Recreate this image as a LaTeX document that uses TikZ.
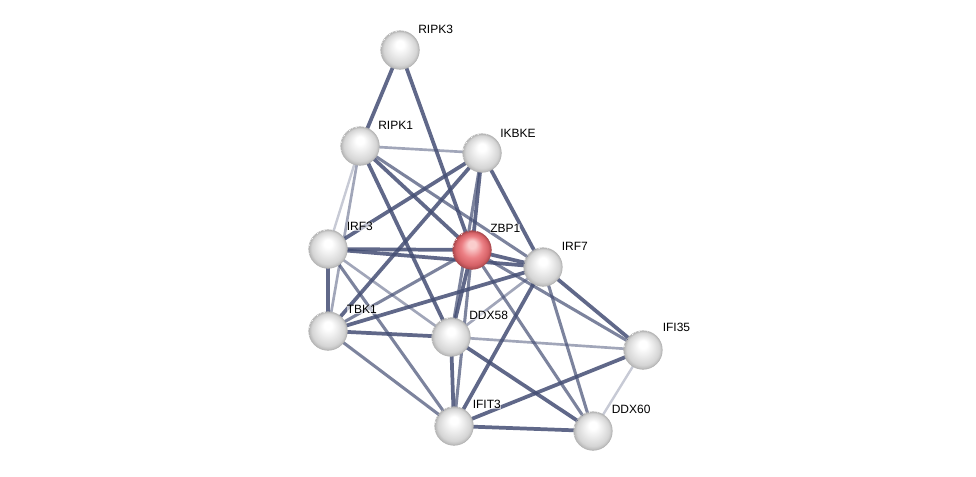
\documentclass[tikz,border=0pt]{standalone}
\usepackage{fontspec}
\setmainfont{Liberation Sans}
\pgfdeclarelayer{bg}
\pgfsetlayers{bg,main}
\definecolor{edgec}{RGB}{68,78,116}
\definecolor{rA}{RGB}{250,205,205}
\definecolor{rB}{RGB}{236,128,133}
\definecolor{rC}{RGB}{214,98,103}
\definecolor{rD}{RGB}{170,72,77}
\pgfdeclareradialshading{greysphere}{\pgfpoint{0bp}{9bp}}{color(0bp)=(white); color(5bp)=(white); color(14bp)=(gray!18); color(21bp)=(gray!33); color(25bp)=(gray!58)}
\pgfdeclareradialshading{redsphere}{\pgfpoint{0bp}{9bp}}{color(0bp)=(rA); color(5bp)=(rA); color(14bp)=(rB); color(21bp)=(rC); color(25bp)=(rD)}
\tikzset{
  prot/.style={circle, minimum size=29pt, inner sep=0pt, shading=greysphere, draw=gray!60, line width=0.4pt},
  hit/.style={prot, shading=redsphere, draw=rD},
  lab/.style={anchor=base west, inner sep=0pt, font=\fontsize{9}{9}\selectfont, fill=white, fill opacity=0.6, text opacity=1},
  eA/.style={draw=edgec, line width=2.8pt, opacity=0.85},
  eB/.style={draw=edgec, line width=2.3pt, opacity=0.7},
  eC/.style={draw=edgec, line width=2pt, opacity=0.5},
  eD/.style={draw=edgec, line width=1.8pt, opacity=0.3},
}
\begin{document}
\begin{tikzpicture}[x=0.75pt,y=-0.75pt]
\useasboundingbox (0,0) rectangle (976,476);
% nodes
\node[prot] (RIPK3) at (400,50) {};
\node[prot] (RIPK1) at (360,146) {};
\node[prot] (IKBKE) at (482,153) {};
\node[prot] (IRF3)  at (328,249) {};
\node[hit]  (ZBP1)  at (472,250) {};
\node[prot] (IRF7)  at (543,267) {};
\node[prot] (TBK1)  at (328,331) {};
\node[prot] (DDX58) at (451,337) {};
\node[prot] (IFI35) at (643,350) {};
\node[prot] (IFIT3) at (454,426) {};
\node[prot] (DDX60) at (593,431) {};
% labels
\node[lab] (lRIPK3) at (418,33) {RIPK3};
\node[lab] (lRIPK1) at (378,129.5) {RIPK1};
\node[lab] (lIKBKE) at (500,137) {IKBKE};
\node[lab] (lIRF3)  at (346.5,230.5) {IRF3};
\node[lab] (lZBP1)  at (490,232.5) {ZBP1};
\node[lab] (lIRF7)  at (561.5,250.5) {IRF7};
\node[lab] (lTBK1)  at (346.5,313.5) {TBK1};
\node[lab] (lDDX58) at (469,319.5) {DDX58};
\node[lab] (lIFI35) at (662.5,331.5) {IFI35};
\node[lab] (lIFIT3) at (472.5,408.5) {IFIT3};
\node[lab] (lDDX60) at (611.5,413.5) {DDX60};
% edges
\begin{pgfonlayer}{bg}
\draw[eA] (RIPK3.center) -- (RIPK1.center);
\draw[eA] (RIPK3.center) -- (ZBP1.center);
\draw[eC] (RIPK1.center) -- (IKBKE.center);
\draw[eD] (RIPK1.center) -- (IRF3.center);
\draw[eC] (RIPK1.center) -- (TBK1.center);
\draw[eA] (RIPK1.center) -- (ZBP1.center);
\draw[eA] (RIPK1.center) -- (DDX58.center);
\draw[eB] (RIPK1.center) -- (IRF7.center);
\draw[eA] (IKBKE.center) -- (IRF3.center);
\draw[eA] (IKBKE.center) -- (TBK1.center);
\draw[eA] (IKBKE.center) -- (ZBP1.center);
\draw[eB] (IKBKE.center) -- (DDX58.center);
\draw[eA] (IKBKE.center) -- (IRF7.center);
\draw[eA] (IRF3.center) -- (TBK1.center);
\draw[eA] (IRF3.center) -- (ZBP1.center);
\draw[eA] (IRF3.center) -- (IRF7.center);
\draw[eC] (IRF3.center) -- (DDX58.center);
\draw[eB] (IRF3.center) -- (IFIT3.center);
\draw[eB] (TBK1.center) -- (ZBP1.center);
\draw[eA] (TBK1.center) -- (IRF7.center);
\draw[eA] (TBK1.center) -- (DDX58.center);
\draw[eB] (TBK1.center) -- (IFIT3.center);
\draw[eA] (ZBP1.center) -- (IRF7.center);
\draw[eA] (ZBP1.center) -- (DDX58.center);
\draw[eB] (ZBP1.center) -- (IFIT3.center);
\draw[eB] (ZBP1.center) -- (DDX60.center);
\draw[eB] (ZBP1.center) -- (IFI35.center);
\draw[eC] (IRF7.center) -- (DDX58.center);
\draw[eA] (IRF7.center) -- (IFIT3.center);
\draw[eA] (IRF7.center) -- (IFI35.center);
\draw[eB] (IRF7.center) -- (DDX60.center);
\draw[eA] (DDX58.center) -- (IFIT3.center);
\draw[eC] (DDX58.center) -- (IFI35.center);
\draw[eA] (DDX58.center) -- (DDX60.center);
\draw[eA] (IFIT3.center) -- (IFI35.center);
\draw[eA] (IFIT3.center) -- (DDX60.center);
\draw[eD] (IFI35.center) -- (DDX60.center);
\end{pgfonlayer}
\end{tikzpicture}
\end{document}
